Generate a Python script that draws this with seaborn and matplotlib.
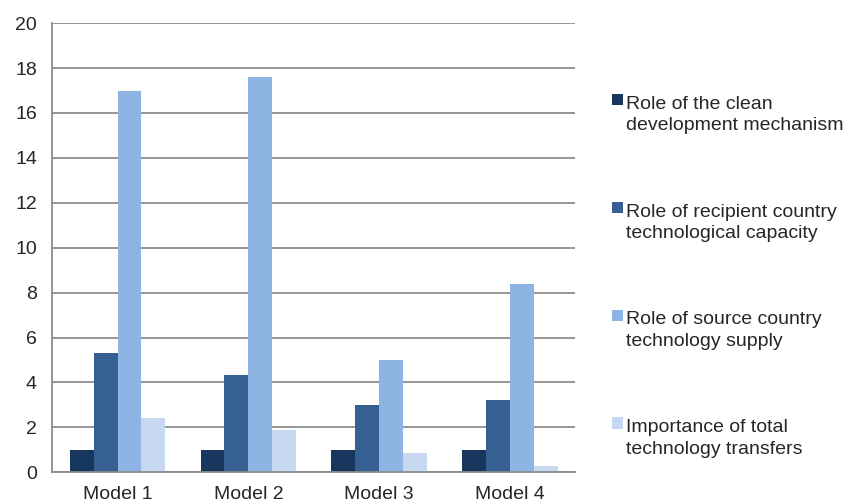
import matplotlib
matplotlib.use("Agg")
import matplotlib.pyplot as plt
import seaborn as sns
import pandas as pd
from matplotlib.patches import Rectangle
from matplotlib.legend_handler import HandlerBase

models = ['Model 1', 'Model 2', 'Model 3', 'Model 4']
series = ['Role of the clean\ndevelopment mechanism',
          'Role of recipient country\ntechnological capacity',
          'Role of source country\ntechnology supply',
          'Importance of total\ntechnology transfers']
cdm = [1.0, 1.0, 1.0, 1.0]
recipient = [5.3, 4.35, 3.0, 3.2]
source = [17.0, 17.6, 5.0, 8.4]
total = [2.4, 1.9, 0.85, 0.27]
colors = ['#17375E', '#376092', '#8EB4E3', '#C6D9F1']

rows = []
for name, vals in zip(series, [cdm, recipient, source, total]):
    for m, v in zip(models, vals):
        rows.append({'model': m, 'series': name, 'value': v})
df = pd.DataFrame(rows)


# square marker next to the first line of a two-line label
class TopSquare(HandlerBase):
    def create_artists(self, legend, orig_handle, xdescent, ydescent,
                       width, height, fontsize, trans):
        size = 0.58 * fontsize
        y0 = -ydescent + 0.62 * 1.35 * fontsize
        r = Rectangle((-xdescent + width - size, y0), size, size,
                      facecolor=orig_handle.get_facecolor(), edgecolor='none',
                      transform=trans)
        return [r]


sns.set_style('white')
plt.rcParams['font.family'] = ['Liberation Sans', 'DejaVu Sans']

fig = plt.figure(figsize=(8.56, 5.04), dpi=100)
ax = fig.add_axes([0.061, 0.063, 0.611, 0.891])

sns.barplot(data=df, x='model', y='value', hue='series', palette=colors,
            width=0.73, gap=0, linewidth=0, saturation=1, ax=ax, legend=True)

ax.set_ylim(0, 20)
ax.set_xlim(-0.5, 3.5)
ax.set_yticks(range(0, 21, 2))
ax.yaxis.grid(True, color='#8c8c8c', linewidth=1.3)
ax.set_axisbelow(True)
ax.set_xlabel('')
ax.set_ylabel('')

for s in ['top', 'right']:
    ax.spines[s].set_visible(False)
for s in ['left', 'bottom']:
    ax.spines[s].set_color('#8c8c8c')
    ax.spines[s].set_linewidth(1.3)

ax.set_xticks([-0.5, 0.5, 1.5, 2.5, 3.5], minor=True)
ax.tick_params(axis='x', which='major', length=0, labelsize=14, pad=10)
ax.tick_params(axis='x', which='minor', length=5, color='#8c8c8c', width=1.3, direction='out')
ax.tick_params(axis='y', length=5, color='#8c8c8c', width=1.3, direction='out', labelsize=14, pad=6)

handles, labels = ax.get_legend_handles_labels()
ax.get_legend().remove()
leg = fig.legend(handles, labels, loc='center left', bbox_to_anchor=(0.694, 0.451),
                 frameon=False, fontsize=14, handlelength=0.6, handleheight=0.7,
                 handletextpad=0.12, labelspacing=3.56,
                 handler_map={h: TopSquare() for h in handles})
for t in leg.get_texts():
    t.set_linespacing(1.35)

fig.savefig('out.png', dpi=100)
